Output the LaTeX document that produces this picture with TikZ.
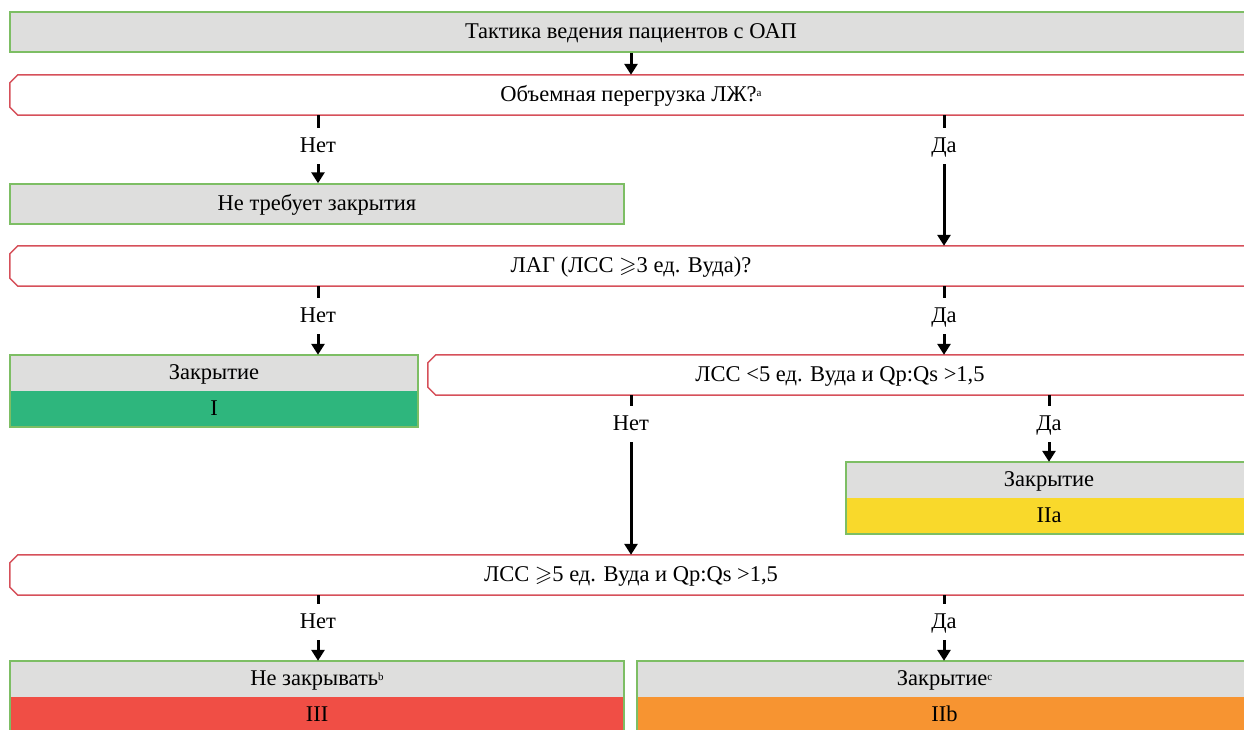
\documentclass[tikz,border=0pt]{standalone}
\usepackage{fontspec}
\usepackage{amssymb}
\setmainfont{Liberation Serif}
\usetikzlibrary{arrows.meta,calc}
\definecolor{boxgray}{RGB}{222,222,221}
\definecolor{boxgreen}{RGB}{125,190,100}
\definecolor{decred}{RGB}{214,80,90}
\definecolor{clsI}{RGB}{46,182,125}
\definecolor{clsIIa}{RGB}{249,217,43}
\definecolor{clsIII}{RGB}{240,78,69}
\definecolor{clsIIb}{RGB}{247,148,49}
\newcommand\supmark[1]{\raisebox{5pt}{\fontsize{11}{11}\selectfont #1}}
\tikzset{
  txt/.style={font=\fontsize{22.5}{25}\selectfont, text=black, text height=16pt, text depth=4pt},
  graybox/.style={txt, rectangle, fill=boxgray, draw=boxgreen, line width=1.5pt, minimum height=40pt, inner sep=0pt},
  upper/.style={txt, rectangle, fill=boxgray, minimum height=36pt, inner sep=0pt},
  lower/.style={txt, rectangle, minimum height=36pt, inner sep=0pt},
  outline/.style={draw=boxgreen, line width=1.5pt},
  decbox/.style={txt, rectangle, minimum height=40pt, inner sep=0pt},
  decline/.style={draw=decred, line width=1.5pt},
  lbl/.style={txt, minimum height=36pt, inner sep=0pt},
  ln/.style={line width=3pt, draw=black},
  arr/.style={ln, -{Triangle[width=13pt,length=11pt]}},
}
\newcommand\chamfbox[1]{%
  \draw[decline] ([xshift=8pt]#1.north west) -- ([xshift=-8pt]#1.north east)
    -- ([yshift=-8pt]#1.north east) -- ([yshift=8pt]#1.south east)
    -- ([xshift=-8pt]#1.south east) -- ([xshift=8pt]#1.south west)
    -- ([yshift=8pt]#1.south west) -- ([yshift=-8pt]#1.north west) -- cycle;}
\begin{document}
\begin{tikzpicture}[x=1pt,y=-1pt]
\useasboundingbox (0,0) rectangle (1244,729);
\clip (0,0) rectangle (1244,729);
\fill[white] (0,0) rectangle (1244,729);

% top
\node[graybox, minimum width=1242pt] (top) at (631,32) {Тактика ведения пациентов с ОАП};

% decision 1
\node[decbox, minimum width=1242pt] (d1) at (631,95) {Объемная перегрузка ЛЖ?\supmark{a}};
\chamfbox{d1}
\draw[arr] (top) -- (d1);

\node[graybox, minimum width=614pt] (nt) at (317,204) {Не требует закрытия};

\node[lbl] (l1n) at (318,146) {Нет};
\node[lbl] (l1y) at (944,146) {Да};

% decision 2
\node[decbox, minimum width=1242pt] (d2) at (631,266) {ЛАГ (ЛСС $\geqslant$3 ед. Вуда)?};
\chamfbox{d2}

\draw[ln] (l1n |- d1.south) -- (l1n.north);
\draw[arr] (l1n.south) -- (l1n |- nt.north);
\draw[ln] (l1y |- d1.south) -- (l1y.north);
\draw[arr] (l1y.south) -- (l1y |- d2.north);

\node[lbl] (l2n) at (318,316) {Нет};
\node[lbl] (l2y) at (944,316) {Да};

% class I box
\node[upper, minimum width=408pt] (z1) at (214,373) {Закрытие};
\node[lower, fill=clsI, minimum width=408pt] (c1) at (214,409) {I};
\draw[outline] (z1.north west) rectangle (c1.south east);

% decision 3
\node[decbox, minimum width=824pt] (d3) at (840,375) {ЛСС <5 ед. Вуда и Qp:Qs >1,5};
\chamfbox{d3}

\draw[ln] (l2n |- d2.south) -- (l2n.north);
\draw[arr] (l2n.south) -- (l2n |- z1.north);
\draw[ln] (l2y |- d2.south) -- (l2y.north);
\draw[arr] (l2y.south) -- (l2y |- d3.north);

\node[lbl] (l3n) at (631,424) {Нет};
\node[lbl] (l3y) at (1049,424) {Да};

% class IIa box
\node[upper, minimum width=406pt] (z2a) at (1049,480) {Закрытие};
\node[lower, fill=clsIIa, minimum width=406pt] (c2a) at (1049,516) {IIa};
\draw[outline] (z2a.north west) rectangle (c2a.south east);

% decision 4
\node[decbox, minimum width=1242pt] (d4) at (631,575) {ЛСС $\geqslant$5 ед. Вуда и Qp:Qs >1,5};
\chamfbox{d4}

\draw[ln] (l3n |- d3.south) -- (l3n.north);
\draw[arr] (l3n.south) -- (l3n |- d4.north);
\draw[ln] (l3y |- d3.south) -- (l3y.north);
\draw[arr] (l3y.south) -- (l3y |- z2a.north);

\node[lbl] (l4n) at (318,622) {Нет};
\node[lbl] (l4y) at (944,622) {Да};

% class III box
\node[upper, minimum width=614pt] (z3) at (317,679) {Не закрывать\supmark{b}};
\node[lower, fill=clsIII, minimum width=614pt] (c3) at (317,715) {III};
\draw[outline] (z3.north west) rectangle (c3.south east);

% class IIb box
\node[upper, minimum width=615pt] (z2b) at (944.5,679) {Закрытие\supmark{c}};
\node[lower, fill=clsIIb, minimum width=615pt] (c2b) at (944.5,715) {IIb};
\draw[outline] (z2b.north west) rectangle (c2b.south east);

\draw[ln] (l4n |- d4.south) -- (l4n.north);
\draw[arr] (l4n.south) -- (l4n |- z3.north);
\draw[ln] (l4y |- d4.south) -- (l4y.north);
\draw[arr] (l4y.south) -- (l4y |- z2b.north);
\end{tikzpicture}
\end{document}
